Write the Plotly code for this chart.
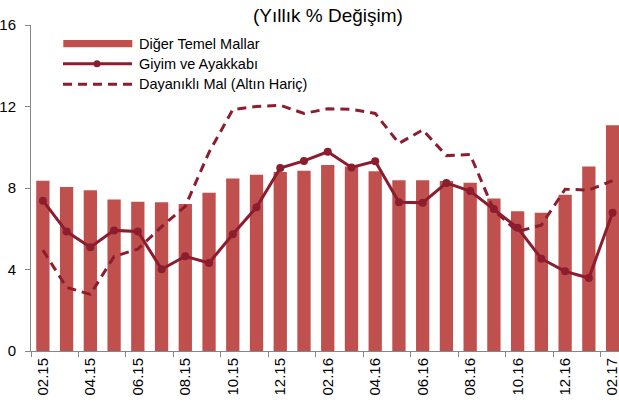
import plotly.graph_objects as go

months = ["02.15", "03.15", "04.15", "05.15", "06.15", "07.15", "08.15", "09.15",
          "10.15", "11.15", "12.15", "01.16", "02.16", "03.16", "04.16", "05.16",
          "06.16", "07.16", "08.16", "09.16", "10.16", "11.16", "12.16", "01.17", "02.17"]

diger_temel_mallar = [8.36, 8.05, 7.89, 7.44, 7.33, 7.30, 7.21, 7.77, 8.47, 8.65,
                      8.79, 8.85, 9.13, 9.06, 8.82, 8.38, 8.38, 8.34, 8.26, 7.49,
                      6.86, 6.79, 7.67, 9.06, 11.08]

giyim_ayakkabi = [7.38, 5.86, 5.09, 5.92, 5.87, 4.01, 4.65, 4.32, 5.73, 7.05,
                  8.98, 9.33, 9.78, 9.01, 9.31, 7.30, 7.28, 8.25, 7.85, 6.97,
                  6.05, 4.53, 3.91, 3.58, 6.79]

dayanikli_mal = [4.95, 3.12, 2.78, 4.64, 5.00, 6.10, 7.10, 9.75, 11.85, 12.00,
                 12.06, 11.66, 11.89, 11.86, 11.66, 10.19, 10.85, 9.59, 9.64, 6.90,
                 5.86, 6.18, 7.94, 7.90, 8.36]

series_names = ["Diğer Temel Mallar", "Giyim ve Ayakkabı", "Dayanıklı Mal (Altın Hariç)"]
title_text = "(Yıllık % Değişim)"
y_ticks = [0, 4, 8, 12, 16]

BAR_COLOR = "#C0504D"
LINE_COLOR = "#8C1D2E"
FONT = "Liberation Sans, Arial, sans-serif"

W, H = 619, 403
# plot area in window pixels
X0, X1, Y0, Y1 = 31, 619, 25, 351
L, R, T, B = X0, W - X1, Y0, H - Y1
PW, PH = X1 - X0, Y1 - Y0


def px(x):
    return (x - X0) / PW


def py(y):
    return (Y1 - y) / PH


fig = go.Figure()
fig.add_trace(go.Bar(x=months, y=diger_temel_mallar, name=series_names[0],
                     marker=dict(color=BAR_COLOR, line=dict(width=0))))
fig.add_trace(go.Scatter(x=months, y=dayanikli_mal, name=series_names[2], mode="lines",
                         line=dict(color=LINE_COLOR, width=3, dash="9px,6px")))
fig.add_trace(go.Scatter(x=months, y=giyim_ayakkabi, name=series_names[1], mode="lines+markers",
                         line=dict(color=LINE_COLOR, width=3),
                         marker=dict(color=LINE_COLOR, size=8)))

shapes = [
    dict(type="rect", xref="paper", yref="paper", x0=px(63.3), x1=px(132.3), y0=py(47.3), y1=py(40),
         fillcolor=BAR_COLOR, line=dict(width=0)),
    dict(type="line", xref="paper", yref="paper", x0=px(63), x1=px(132), y0=py(63.7), y1=py(63.7),
         line=dict(color=LINE_COLOR, width=3)),
    dict(type="circle", xref="paper", yref="paper", x0=px(93.5), x1=px(100.5), y0=py(67.2), y1=py(60.2),
         fillcolor=LINE_COLOR, line=dict(width=0)),
    dict(type="line", xref="paper", yref="paper", x0=px(63), x1=px(132), y0=py(84.3), y1=py(84.3),
         line=dict(color=LINE_COLOR, width=3, dash="9px,6px")),
]

annotations = [
    dict(text=title_text, xref="paper", yref="paper", x=px(328), y=py(16), xanchor="center",
         yanchor="middle", showarrow=False, font=dict(size=19, color="#000000", family=FONT)),
]
for name, yc in zip(series_names, [43.5, 63.7, 84.5]):
    annotations.append(dict(text=name, xref="paper", yref="paper", x=px(137), y=py(yc),
                            xanchor="left", yanchor="middle", showarrow=False,
                            font=dict(size=14.5, color="#000000", family=FONT)))

fig.update_layout(
    width=W, height=H,
    margin=dict(l=L, r=R, t=T, b=B, pad=0, autoexpand=False),
    paper_bgcolor="white", plot_bgcolor="white",
    showlegend=False,
    hovermode=False,
    bargap=0.44,
    font=dict(family=FONT, size=15, color="#000000"),
    shapes=shapes,
    annotations=annotations,
    xaxis=dict(type="category", range=[-0.5, 24.27], tickmode="linear", dtick=2,
               tickson="boundaries", ticks="outside", ticklen=5, tickcolor="#868686",
               tickangle=-90, showline=True, linecolor="#868686", linewidth=1,
               showgrid=False, zeroline=False, automargin=False,
               tickfont=dict(size=15, family=FONT)),
    yaxis=dict(range=[0, 16], tickvals=y_ticks, ticks="outside", ticklen=5, tickcolor="#868686",
               showline=True, linecolor="#868686", linewidth=1, showgrid=False, zeroline=False,
               automargin=False, ticklabelstandoff=6, tickfont=dict(size=15, family=FONT)),
)

fig.write_html("out.html",
               config={"displayModeBar": False, "staticPlot": True},
               post_script="document.body.style.margin='0';document.body.style.overflow='hidden';")
